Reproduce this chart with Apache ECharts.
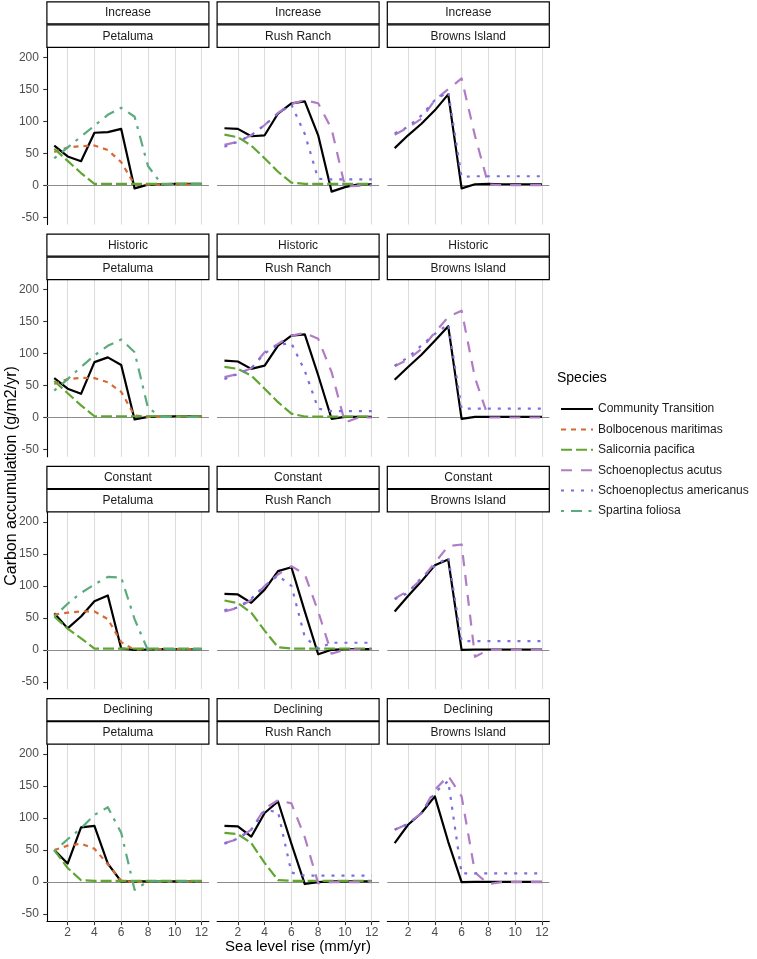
<!DOCTYPE html>
<html><head><meta charset="utf-8">
<script src="https://cdn.jsdelivr.net/npm/echarts@6/dist/echarts.min.js"></script>
<style>html,body{margin:0;padding:0;background:#fff}#c{width:757px;height:959px}</style>
</head><body><div id="c"></div>
<script>
// ---------- data ----------
const slr = [1,2,3,4,5,6,7,8,9,10,11,12];
const scenarios = ['Increase','Historic','Constant','Declining'];
const sites = ['Petaluma','Rush Ranch','Browns Island'];
const speciesNames = ['Community Transition','Bolbocenous maritimas','Salicornia pacifica','Schoenoplectus acutus','Schoenoplectus americanus','Spartina foliosa'];
const yTickValues = [-50,0,50,100,150,200];
const xTickValues = [2,4,6,8,10,12];

// Increase
const inc_pet_comm = [62,45,37.5,82,83,88,-5,1,1.5,2,2,2];
const inc_pet_bolb = [52,59,61,62,55,36,1,1,1,1,1,1];
const inc_pet_sali = [57,38,19,2,2,2,2,2,2,2,2,2];
const inc_pet_spar = [42,59,76,93,110,121,107,30,2,1,1,1];
const inc_rr_comm = [89,88,76.5,78,112,128,131,78,-10,-3,1.5,1.5];
const inc_rr_sali = [79,75,62,42,21,4,2,2,2,2,2,2];
const inc_rr_acut = [63,68,78,94,113,127,133,128,88,-2,-1,0];
const inc_rr_amer = [60,68,78,94,112,126,80,10,9,9,9,9];
const inc_bi_comm = [58,78,96,117,142,-5,1.5,2,1.5,1.5,1.5,1.5];
const inc_bi_acut = [79,90,104,133,150,167,77,1,0,0,0,0];
const inc_bi_amer = [81,91,109,133,146,13,14,14,14,14,14,14];
// Historic
const his_pet_comm = [61.5,45,37,86.5,94,82,-3,1,1.5,2,2,2];
const his_pet_bolb = [52.5,60,62,61.5,55,40,3,1,1,1,1,1];
const his_pet_sali = [57,38,19,2,2,2,2,2,2,2,2,2];
const his_pet_spar = [42,60,79,97,112,122,102,15,1,1,1,1];
const his_rr_comm = [89,87.5,76,81,112.5,128,130,66,-2,1,1,1];
const his_rr_sali = [79,76,65.6,45,24,6,1.5,1.5,1.5,1.5,1.5,1.5];
const his_rr_acut = [63,68,77,102,115,128,132,123,71,-8,0,0];
const his_rr_amer = [60,68,77,100,114,116,73,14,10,10,10,10];
const his_bi_comm = [59,79,98,120,142.7,-2,1,1,1,1,1,1];
const his_bi_acut = [80,90.6,107,133,157,167,62,0,0,0,0,0];
const his_bi_amer = [81,94,112.5,130.7,146,13.5,14,14,14,14,14,14];
// Constant
const con_pet_comm = [57,33.5,52,76,85,2,0,0.5,1,1,1,1];
const con_pet_bolb = [55,58,60,60,48,12,0,1,1,1,1,1];
const con_pet_sali = [52,33,18,2,2,2,2,2,2,2,2,2];
const con_pet_spar = [52,72,89,102,114,113,48,-1,1,1,1,1];
const con_rr_comm = [87.5,86.5,73.4,94,123,129,60,-7,0,1,1,1];
const con_rr_sali = [77,73,58,30,4,2,2,2,2,2,2,2];
const con_rr_acut = [60,65.6,78,99.5,117.7,130.7,118,60,-6,0,0,0];
const con_rr_amer = [62,66,80,100,116,100,20,2,11,11,11,11];
const con_bi_comm = [60,84,107,132,141,0,0.5,0.5,0.5,0.5,0.5,0.5];
const con_bi_acut = [80,92,110,136,162,164.6,-11,0,0,0,0,0];
const con_bi_amer = [79,89,112.5,131,145,13.5,13.5,13.5,13.5,13.5,13.5,13.5];
// Declining
const dec_pet_comm = [50,29,85.5,88,29,1,1,1,1,1,1,1];
const dec_pet_bolb = [50,57,60,52,28,2,0,1,1,1,1,1];
const dec_pet_sali = [50,22,3,2,2,2,2,2,2,2,2,2];
const dec_pet_spar = [48,67,84,105,117,77,-12,1,1,1,1,1];
const dec_rr_comm = [88,87,71,108,126,60,-3,0,1,1,1,1];
const dec_rr_sali = [77,75,61,30,3,2,2,2,2,2,2,2];
const dec_rr_acut = [61,67,82,115,128,123,70,-2,0,0,0,0];
const dec_rr_amer = [60,68,82,112,110,15,10,10,10,10,10,10];
const dec_bi_comm = [61,89.6,108,134,63,0,0.5,0.5,0.5,0.5,0.5,0.5];
const dec_bi_acut = [82,91,108,144,166,134,15,-3,0,0,0,0];
const dec_bi_amer = [82,91,108,140,158,13.5,13.5,13.5,13.5,13.5,13.5,13.5];

// panel -> [speciesIndex, values]
const panels = [
  [0,0,[[0,inc_pet_comm],[1,inc_pet_bolb],[2,inc_pet_sali],[5,inc_pet_spar]]],
  [0,1,[[0,inc_rr_comm],[2,inc_rr_sali],[3,inc_rr_acut],[4,inc_rr_amer]]],
  [0,2,[[0,inc_bi_comm],[3,inc_bi_acut],[4,inc_bi_amer]]],
  [1,0,[[0,his_pet_comm],[1,his_pet_bolb],[2,his_pet_sali],[5,his_pet_spar]]],
  [1,1,[[0,his_rr_comm],[2,his_rr_sali],[3,his_rr_acut],[4,his_rr_amer]]],
  [1,2,[[0,his_bi_comm],[3,his_bi_acut],[4,his_bi_amer]]],
  [2,0,[[0,con_pet_comm],[1,con_pet_bolb],[2,con_pet_sali],[5,con_pet_spar]]],
  [2,1,[[0,con_rr_comm],[2,con_rr_sali],[3,con_rr_acut],[4,con_rr_amer]]],
  [2,2,[[0,con_bi_comm],[3,con_bi_acut],[4,con_bi_amer]]],
  [3,0,[[0,dec_pet_comm],[1,dec_pet_bolb],[2,dec_pet_sali],[5,dec_pet_spar]]],
  [3,1,[[0,dec_rr_comm],[2,dec_rr_sali],[3,dec_rr_acut],[4,dec_rr_amer]]],
  [3,2,[[0,dec_bi_comm],[3,dec_bi_acut],[4,dec_bi_amer]]]
];

// ---------- styling ----------
const FONT = '"Liberation Sans", Arial, sans-serif';
const speciesColors = ['#000000','#D66A36','#62A632','#B07CC6','#7B6FE0','#5AAB7E'];
const speciesDash = ['solid',[5,5],[11,4],[11,9],[3,7],[3,7,11,6.5]];
const GL = 46.9, GW = 162, GP = 170.2, GT = 47.5, GH = 177, RP = 232.3;
const YMIN = -61.4, YMAX = 215.2, XMIN = 0.45, XMAX = 12.55;

const grids = [], xAxes = [], yAxes = [], series = [], graphics = [];
panels.forEach((p, gi) => {
  const [r, c, lines] = p;
  const left = GL + GP * c, top = GT + RP * r;
  grids.push({left: left, top: top, width: GW, height: GH, containLabel: false});
  const bottom = r === 3, leftCol = c === 0;
  xAxes.push({
    type: 'value', gridIndex: gi, min: XMIN, max: XMAX,
    splitLine: {show: false},
    axisLine: {show: bottom, onZero: false, lineStyle: {color: '#000', width: 1.1}},
    axisTick: {show: bottom, length: 3.7, customValues: xTickValues, lineStyle: {color: '#333', width: 1.1}},
    axisLabel: {show: bottom, customValues: xTickValues, margin: 5, fontSize: 12, color: '#4D4D4D', fontFamily: FONT}
  });
  yAxes.push({
    type: 'value', gridIndex: gi, min: YMIN, max: YMAX,
    splitLine: {show: false},
    axisLine: {show: leftCol, onZero: false, lineStyle: {color: '#000', width: 1.1}},
    axisTick: {show: leftCol, length: 3.7, customValues: yTickValues, lineStyle: {color: '#333', width: 1.1}},
    axisLabel: {show: leftCol, customValues: yTickValues, margin: 8, fontSize: 12, color: '#4D4D4D', fontFamily: FONT}
  });
  lines.forEach(([si, vals], k) => {
    const s = {
      type: 'line', name: speciesNames[si], xAxisIndex: gi, yAxisIndex: gi,
      data: slr.map((x, i) => [x, vals[i]]),
      showSymbol: false, symbol: 'none', silent: true, animation: false, z: 3 + si * 0.1,
      lineStyle: {color: speciesColors[si], width: 2.2, type: speciesDash[si], cap: 'butt', join: 'round'},
      itemStyle: {color: speciesColors[si]}
    };
    if (k === 0) {
      s.markLine = {
        silent: true, animation: false, z: 1, symbol: ['none','none'],
        label: {show: false},
        data: xTickValues.map(v => ({xAxis: v, lineStyle: {color: '#DCDCDC', width: 1.1, type: 'solid'}}))
          .concat([{yAxis: 0, lineStyle: {color: '#8C8C8C', width: 1, type: 'solid'}}])
      };
    }
    series.push(s);
  });
  // strips
  const y0 = 1.8 + RP * r;
  graphics.push({type: 'rect', shape: {x: left, y: y0, width: GW, height: 22.1},
    style: {fill: '#fff', stroke: '#000', lineWidth: 1.2}, z: 10});
  graphics.push({type: 'rect', shape: {x: left, y: y0 + 23.0, width: GW, height: 22.5},
    style: {fill: '#fff', stroke: '#000', lineWidth: 1.2}, z: 10});
  graphics.push({type: 'text', x: left + GW / 2, y: y0 + 11.3, z: 11,
    style: {text: scenarios[r], fill: '#1A1A1A', font: '12px ' + FONT, align: 'center', verticalAlign: 'middle'}});
  graphics.push({type: 'text', x: left + GW / 2, y: y0 + 34.4, z: 11,
    style: {text: sites[c], fill: '#1A1A1A', font: '12px ' + FONT, align: 'center', verticalAlign: 'middle'}});
});

graphics.push({type: 'text', x: 12, y: 476, rotation: Math.PI / 2, z: 11,
  style: {text: 'Carbon accumulation (g/m2/yr)', fill: '#000', font: '16px ' + FONT, align: 'center', verticalAlign: 'middle'}});
graphics.push({type: 'text', x: 298, y: 947, z: 11,
  style: {text: 'Sea level rise (mm/yr)', fill: '#000', font: '15px ' + FONT, align: 'center', verticalAlign: 'middle'}});
graphics.push({type: 'text', x: 557, y: 378, z: 11,
  style: {text: 'Species', fill: '#000', font: '14px ' + FONT, align: 'left', verticalAlign: 'middle'}});

const chart = echarts.init(document.getElementById('c'), null, {renderer: 'canvas'});
chart.setOption({
  backgroundColor: '#fff',
  animation: false,
  grid: grids, xAxis: xAxes, yAxis: yAxes, series: series,
  legend: {
    data: speciesNames, orient: 'vertical', left: 555, top: 398,
    itemWidth: 32, itemHeight: 14, itemGap: 8.4, selectedMode: false,
    itemStyle: {opacity: 0},
    textStyle: {fontSize: 12, color: '#1A1A1A', fontFamily: FONT}
  },
  graphic: graphics
});
</script></body></html>
